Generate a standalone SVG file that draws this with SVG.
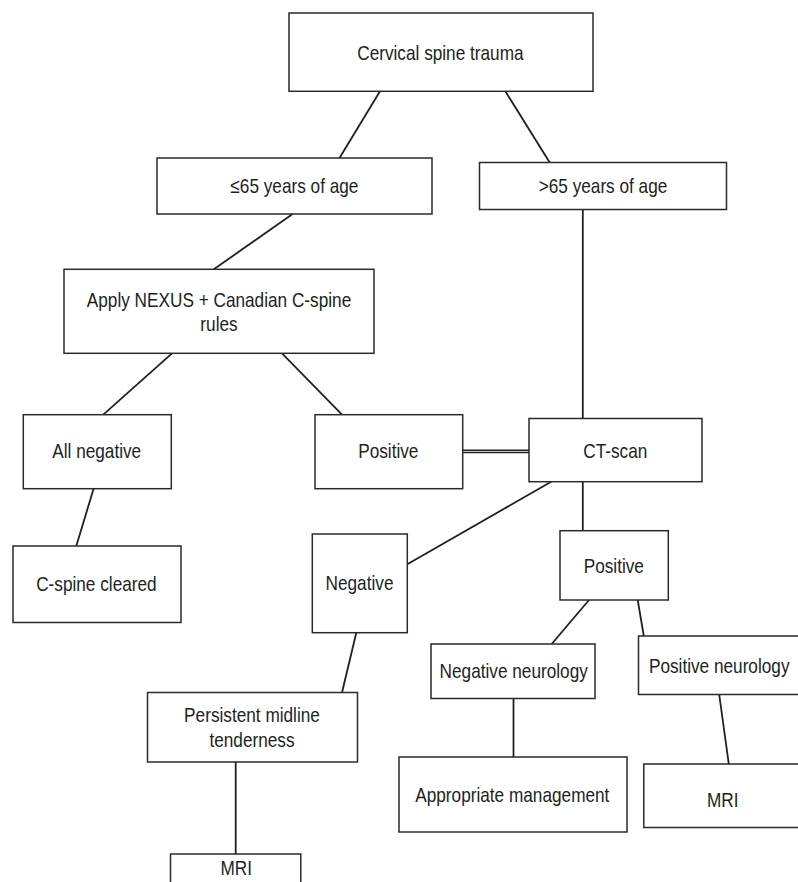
<svg xmlns="http://www.w3.org/2000/svg" width="798" height="882" viewBox="0 0 798 882">
  <style>
    .box { fill: #ffffff; stroke: #2b2a2a; stroke-width: 1.5; }
    .lbl { font-family: "Liberation Sans", Arial, sans-serif; font-size: 21px; fill: #231f20; text-anchor: middle; }
    .edge { stroke: #231f20; stroke-width: 1.8; fill: none; }
    .edge2 { stroke: #231f20; stroke-width: 1.5; fill: none; }
  </style>
  <rect width="798" height="882" fill="#ffffff"/>

  <!-- connectors -->
  <g id="connectors">
    <line class="edge" x1="380" y1="91.3" x2="339.5" y2="158"/>
    <line class="edge" x1="505.4" y1="91.3" x2="549.7" y2="162.5"/>
    <line class="edge" x1="292.6" y1="214" x2="213.8" y2="269.3"/>
    <line class="edge" x1="582.8" y1="209.3" x2="582.8" y2="418.3"/>
    <line class="edge" x1="172" y1="353.3" x2="103.3" y2="414.7"/>
    <line class="edge" x1="282" y1="353.3" x2="342" y2="414.7"/>
    <line class="edge" x1="93.6" y1="488.7" x2="76.3" y2="546"/>
    <!-- double link between the positive rules box and the CT-scan box -->
    <line class="edge2" x1="462.7" y1="450.2" x2="529" y2="450.2"/>
    <line class="edge2" x1="462.7" y1="452.6" x2="529" y2="452.6"/>
    <line class="edge" x1="551.2" y1="481.7" x2="407.3" y2="564.3"/>
    <line class="edge" x1="582.8" y1="481.7" x2="582.8" y2="530.7"/>
    <line class="edge" x1="356.3" y1="632.7" x2="342" y2="692.5"/>
    <line class="edge" x1="589" y1="600" x2="551.7" y2="644"/>
    <line class="edge" x1="637.7" y1="600" x2="643.8" y2="636"/>
    <line class="edge" x1="513.5" y1="698.5" x2="513.5" y2="757"/>
    <line class="edge" x1="719.2" y1="694.5" x2="728.8" y2="764"/>
    <line class="edge" x1="235.7" y1="762" x2="235.7" y2="854"/>
  </g>

  <g id="cervical-spine-trauma">
    <rect class="box" x="289" y="13" width="304" height="78.3"/>
    <text class="lbl" transform="translate(440.4 60) scale(0.82 1)">Cervical spine trauma</text>
  </g>

  <g id="age-under-65">
    <rect class="box" x="157" y="158" width="275" height="56"/>
    <text class="lbl" transform="translate(294.4 193) scale(0.82 1)">≤65 years of age</text>
  </g>

  <g id="age-over-65">
    <rect class="box" x="479.5" y="162.5" width="247" height="47"/>
    <text class="lbl" transform="translate(603 193) scale(0.82 1)">&gt;65 years of age</text>
  </g>

  <g id="nexus-rules">
    <rect class="box" x="64" y="269.3" width="310" height="84"/>
    <text class="lbl" transform="translate(219 306.7) scale(0.82 1)">Apply NEXUS + Canadian C-spine</text>
    <text class="lbl" transform="translate(219 330.7) scale(0.82 1)">rules</text>
  </g>

  <g id="all-negative">
    <rect class="box" x="23.3" y="414.7" width="148" height="74"/>
    <text class="lbl" transform="translate(96.7 458.3) scale(0.82 1)">All negative</text>
  </g>

  <g id="rules-positive">
    <rect class="box" x="315" y="414.7" width="147.7" height="74"/>
    <text class="lbl" transform="translate(388.3 458.3) scale(0.82 1)">Positive</text>
  </g>

  <g id="ct-scan">
    <rect class="box" x="529" y="418.5" width="173" height="63.2"/>
    <text class="lbl" transform="translate(615.3 457.5) scale(0.82 1)">CT-scan</text>
  </g>

  <g id="c-spine-cleared">
    <rect class="box" x="13" y="546" width="168" height="76.5"/>
    <text class="lbl" transform="translate(96.4 591) scale(0.82 1)">C-spine cleared</text>
  </g>

  <g id="ct-negative">
    <rect class="box" x="312.3" y="534" width="95" height="98.7"/>
    <text class="lbl" transform="translate(359.5 590) scale(0.82 1)">Negative</text>
  </g>

  <g id="ct-positive">
    <rect class="box" x="560" y="530.7" width="108.3" height="69.3"/>
    <text class="lbl" transform="translate(613.8 573) scale(0.82 1)">Positive</text>
  </g>

  <g id="midline-tenderness">
    <rect class="box" x="147.5" y="692.5" width="210" height="69.5"/>
    <text class="lbl" transform="translate(252 721.7) scale(0.82 1)">Persistent midline</text>
    <text class="lbl" transform="translate(252 746.7) scale(0.82 1)">tenderness</text>
  </g>

  <g id="negative-neurology">
    <rect class="box" x="431" y="644" width="164" height="54.5"/>
    <text class="lbl" transform="translate(513.7 678.3) scale(0.82 1)">Negative neurology</text>
  </g>

  <g id="positive-neurology">
    <rect class="box" x="638.5" y="636" width="172" height="58.5"/>
    <text class="lbl" transform="translate(719.2 673) scale(0.82 1)">Positive neurology</text>
  </g>

  <g id="appropriate-management">
    <rect class="box" x="399" y="757" width="228" height="75"/>
    <text class="lbl" transform="translate(512.3 802.3) scale(0.82 1)">Appropriate management</text>
  </g>

  <g id="mri-neurology">
    <rect class="box" x="643.8" y="764" width="170" height="63.5"/>
    <text class="lbl" transform="translate(722.8 806.7) scale(0.82 1)">MRI</text>
  </g>

  <g id="mri-tenderness">
    <rect class="box" x="170.5" y="854" width="130.3" height="40"/>
    <text class="lbl" transform="translate(236.3 875) scale(0.82 1)">MRI</text>
  </g>
</svg>
